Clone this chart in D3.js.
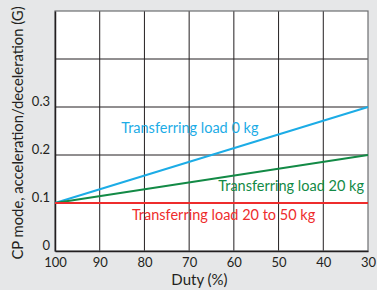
<!DOCTYPE html>
<html>
<head>
<meta charset="utf-8">
<script src="https://d3js.org/d3.v7.min.js"></script>
<style>
  html, body { margin: 0; padding: 0; background: #e6e7e8; }
  svg text { font-family: Lato, sans-serif; fill: #231f20; }
</style>
</head>
<body>
<svg id="chart" width="377" height="290"></svg>
<script>
// duty (%) on x, acceleration (G) on y
const dutyTicks = [100, 90, 80, 70, 60, 50, 40, 30];
const gTicks = [0, 0.1, 0.2, 0.3];
const gGrid = [0.1, 0.2, 0.3, 0.4];

const series = [
  { name: "Transferring load 0 kg", color: "#1cace6", duty: [100, 30], g: [0.1, 0.3] },
  { name: "Transferring load 20 kg", color: "#138a46", duty: [100, 30], g: [0.1, 0.2] },
  { name: "Transferring load 20 to 50 kg", color: "#ee2c2c", duty: [100, 30], g: [0.1, 0.1] }
];
// label anchor (in data units) for each series
const labelPos = [
  { duty: 85.2, g: 0.245, anchor: "start" },
  { duty: 30.9, g: 0.124, anchor: "end" },
  { duty: 82.8, g: 0.065, anchor: "start" }
];

const svg = d3.select("#chart");
const mLeft = 55, mRight = 368, mTop = 11, mBottom = 251;

const x = d3.scaleLinear().domain([100, 30]).range([mLeft, mRight]);
const y = d3.scaleLinear().domain([0, 0.5]).range([mBottom, mTop]);

// plot area
svg.append("rect")
  .attr("x", mLeft).attr("y", mTop)
  .attr("width", mRight - mLeft).attr("height", mBottom - mTop)
  .attr("fill", "#fff");

// grid
svg.append("g").selectAll("line")
  .data(dutyTicks.slice(1, -1))
  .join("line")
  .attr("x1", d => x(d)).attr("x2", d => x(d))
  .attr("y1", mTop).attr("y2", mBottom)
  .attr("stroke", "#231f20").attr("stroke-width", 1);

svg.append("g").selectAll("line")
  .data(gGrid)
  .join("line")
  .attr("x1", mLeft).attr("x2", mRight)
  .attr("y1", d => y(d)).attr("y2", d => y(d))
  .attr("stroke", "#231f20").attr("stroke-width", 1);

// border
svg.append("rect")
  .attr("x", mLeft).attr("y", mTop)
  .attr("width", mRight - mLeft).attr("height", mBottom - mTop)
  .attr("fill", "none").attr("stroke", "#6d6e71").attr("stroke-width", 1.2);

// axes
const xAxis = svg.append("g")
  .attr("transform", `translate(0,${mBottom})`)
  .call(d3.axisBottom(x).tickValues(dutyTicks).tickSize(0).tickPadding(7));
xAxis.select(".domain").attr("stroke", "#231f20").attr("stroke-width", 1.5);
xAxis.selectAll("text").attr("font-size", 13).attr("font-family", "Lato").attr("fill", "#231f20");

const yAxis = svg.append("g")
  .attr("transform", `translate(${mLeft},0)`)
  .call(d3.axisLeft(y).tickValues(gTicks).tickSize(0).tickPadding(5).tickFormat(d => d === 0 ? "0" : d.toFixed(1)));
yAxis.select(".domain").attr("stroke", "#231f20").attr("stroke-width", 1.5);
yAxis.selectAll("text").attr("font-size", 13).attr("font-family", "Lato").attr("fill", "#231f20").attr("dy", "-0.15em");

// titles
svg.append("text")
  .attr("x", (mLeft + mRight) / 2 - 12).attr("y", 285)
  .attr("text-anchor", "middle").attr("font-size", 15)
  .text("Duty (%)");

svg.append("text")
  .attr("transform", `translate(23,${(mTop + mBottom) / 2 + 2}) rotate(-90)`)
  .attr("text-anchor", "middle").attr("font-size", 14.8)
  .text("CP mode, acceleration/deceleration (G)");

// series lines
const line = d3.line().x(d => x(d[0])).y(d => y(d[1]));
svg.append("g").selectAll("path")
  .data(series)
  .join("path")
  .attr("d", s => line(d3.zip(s.duty, s.g)))
  .attr("fill", "none")
  .attr("stroke", s => s.color)
  .attr("stroke-width", 2);

// series labels
svg.append("g").selectAll("text")
  .data(series)
  .join("text")
  .attr("x", (s, i) => x(labelPos[i].duty))
  .attr("y", (s, i) => y(labelPos[i].g))
  .attr("text-anchor", (s, i) => labelPos[i].anchor)
  .attr("font-size", 14.5)
  .style("fill", s => s.color)
  .text(s => s.name);
</script>
</body>
</html>
